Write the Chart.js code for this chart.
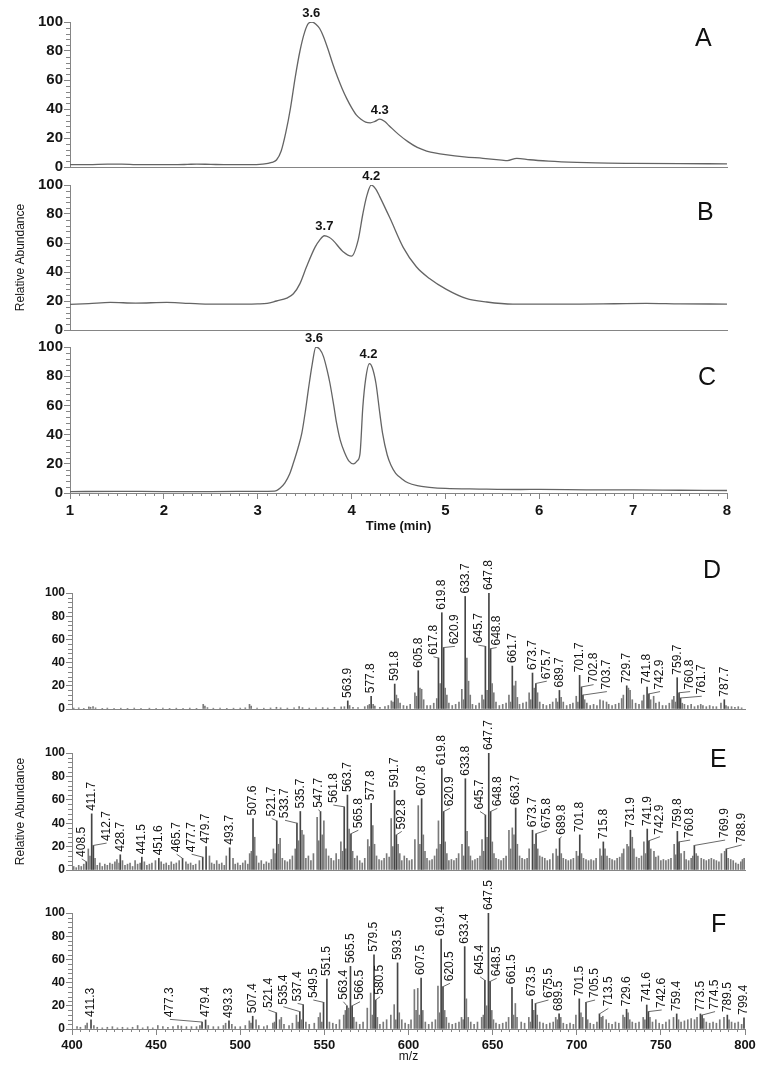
<!DOCTYPE html>
<html>
<head>
<meta charset="utf-8">
<script src="https://cdn.jsdelivr.net/npm/chart.js@4.4.1/dist/chart.umd.min.js"></script>
<style>
  body { margin: 0; background: #fff; width: 766px; height: 1076px; position: relative; overflow: hidden;
         font-family: "Liberation Sans", Arial, Helvetica, sans-serif; }
  canvas { position: absolute; left: 0; }
  .panel { position: absolute; font-size: 25px; line-height: 25px; color: #111; }
</style>
</head>
<body>
<canvas id="chA" width="766" height="180" style="top:0px"></canvas>
<canvas id="chB" width="766" height="180" style="top:160px"></canvas>
<canvas id="chC" width="766" height="220" style="top:320px"></canvas>
<canvas id="chD" width="766" height="175" style="top:545px"></canvas>
<canvas id="chE" width="766" height="180" style="top:700px"></canvas>
<canvas id="chF" width="766" height="211" style="top:865px"></canvas>

<div class="panel" style="left:695px;top:25px">A</div>
<div class="panel" style="left:697px;top:199px">B</div>
<div class="panel" style="left:698px;top:364px">C</div>
<div class="panel" style="left:703px;top:557px">D</div>
<div class="panel" style="left:710px;top:746px">E</div>
<div class="panel" style="left:711px;top:911px">F</div>

<script>
// ---- chromatograms: time (min) vs relative abundance (%) ----
const timeA = [1.0, 1.2, 1.4, 1.55, 1.7, 1.9, 2.1, 2.25, 2.35, 2.5, 2.7, 2.9, 3.05, 3.15, 3.2, 3.25, 3.3, 3.35, 3.4, 3.45,
               3.5, 3.54, 3.58, 3.62, 3.66, 3.7, 3.75, 3.8, 3.85, 3.9, 3.95, 4.0, 4.05, 4.1, 4.15, 4.2, 4.25, 4.3, 4.35, 4.4,
               4.5, 4.6, 4.7, 4.8, 4.9, 5.0, 5.2, 5.4, 5.6, 5.66, 5.76, 5.9, 6.1, 6.4, 6.6, 7.0, 7.5, 8.0];
const absA  = [1.6, 1.6, 2.0, 2.0, 1.7, 1.6, 1.6, 1.8, 2.0, 1.8, 1.6, 1.6, 2.0, 3.2, 4.8, 11, 24, 41, 62, 80,
               93, 99, 100, 98.5, 95.5, 90, 81, 71, 62, 54, 47, 41, 36, 33, 31, 30.5, 31.5, 33, 31.5, 28.5,
               22.5, 17.5, 13.5, 11, 9.5, 8.5, 7.0, 6.0, 4.8, 4.4, 6.0, 5.0, 4.1, 3.2, 2.8, 2.5, 2.3, 2.2];
const peaksA = [[3.57, 100, '3.6'], [4.3, 33, '4.3']];

const timeB = [1.0, 1.2, 1.43, 1.7, 2.03, 2.2, 2.38, 2.7, 3.0, 3.1, 3.2, 3.31, 3.38, 3.45, 3.52, 3.61, 3.66, 3.71, 3.76, 3.8,
               3.91, 4.0, 4.07, 4.12, 4.16, 4.21, 4.26, 4.3, 4.41, 4.55, 4.69, 4.83, 5.01, 5.22, 5.44, 5.72, 6.0, 6.43, 6.8, 7.14,
               7.5, 8.0];
const absB  = [17.7, 18.2, 19, 18.6, 19, 18.6, 18, 17.8, 18, 18.3, 20, 22, 25, 32, 43.6, 57, 62, 65, 64, 62,
               54, 51, 62, 80, 92, 100, 97, 92, 77, 57, 43.6, 35.5, 28, 21.8, 19.3, 17.9, 17.9, 17.9, 18.1, 18.3,
               18, 17.9];
const peaksB = [[3.71, 65, '3.7'], [4.21, 100, '4.2']];

const timeC = [1.0, 1.5, 2.0, 2.5, 3.0, 3.18, 3.24, 3.29, 3.34, 3.38, 3.43, 3.47, 3.51, 3.54, 3.58, 3.62, 3.66, 3.70, 3.74, 3.77,
               3.81, 3.84, 3.88, 3.93, 3.97, 4.02, 4.06, 4.09, 4.12, 4.15, 4.19, 4.22, 4.26, 4.30, 4.33, 4.38, 4.42, 4.47, 4.53, 4.6,
               4.7, 4.83, 5.0, 5.36, 5.8, 6.0, 6.5, 7.0, 7.5, 8.0];
const absC  = [1.0, 1.1, 1.0, 1.0, 1.1, 1.3, 3.5, 7, 13, 20.5, 31, 41, 57, 71, 88, 100, 98.5, 93.6, 84, 75,
               60, 48, 36, 27, 22, 20, 22, 27, 59, 78, 88.6, 86, 75, 55, 41, 26, 19, 13.5, 10, 7,
               5, 3.9, 3.1, 2.7, 2.4, 2.5, 2.2, 2.1, 1.9, 1.7];
const peaksC = [[3.6, 100, '3.6'], [4.18, 88.6, '4.2']];

// ---- mass spectra: labelled peaks (m/z, relative abundance) ----
const dMz  = [563.9, 577.8, 591.8, 605.8, 617.8, 619.8, 620.9, 633.7, 645.7, 647.8, 648.8, 661.7, 673.7,
              675.7, 689.7, 701.7, 702.8, 703.7, 729.7, 741.8, 742.9, 759.7, 760.8, 761.7, 787.7];
const dInt = [7, 11, 21.5, 33, 44, 83, 53, 97, 54, 100, 52, 37, 31,
              22, 16, 29, 19, 12, 20, 19, 13, 27, 14, 9.5, 8];

const eMz  = [408.5, 411.7, 412.7, 428.7, 441.5, 451.6, 465.7, 477.7, 479.7, 493.7, 507.6, 521.7, 533.7, 535.7,
              547.7, 561.8, 563.7, 565.8, 577.8, 591.7, 592.8, 607.8, 619.8, 620.9, 633.8, 645.7, 647.7, 648.8,
              663.7, 673.7, 675.8, 689.8, 701.8, 715.8, 731.9, 741.9, 742.9, 759.8, 760.8, 769.9, 788.9];
const eInt = [7, 48, 21, 13, 11, 10, 10, 11, 20, 19, 44, 42, 40, 50,
              50, 54, 64, 31, 57, 68, 30, 61, 87, 50, 78, 47, 100, 50,
              53, 34, 31, 27, 30, 24, 34, 35, 25, 33, 24, 21, 18];

const fMz  = [411.3, 477.3, 479.4, 493.3, 507.4, 521.4, 535.4, 537.4, 549.5, 551.5, 563.4, 565.5, 566.5, 579.5,
              580.5, 593.5, 607.5, 619.4, 620.5, 633.4, 645.4, 647.5, 648.5, 661.5, 673.5, 675.5, 689.5, 701.5,
              705.5, 713.5, 729.6, 741.6, 742.6, 759.4, 773.5, 774.5, 789.5, 799.4];
const fInt = [7.8, 6, 7.8, 7, 11, 14, 15, 21, 23, 43, 20, 54, 20, 64,
              25, 57, 44, 77.6, 36.5, 71, 42, 100, 41, 36, 25.6, 22, 13, 26,
              23, 13, 17, 20.7, 15, 13, 13, 12, 12, 9.7];

// ---- mass spectra: unlabelled ions [m/z, abundance] ----
const dMinor = [[401,0.8],[404,1],[407,0.6],[410,1.8],[411,1.5],[412.5,2],[414,1],[418,0.6],[421,0.8],[425,0.5],[429,0.7],
  [433,0.6],[437,0.8],[441,0.5],[446,0.7],[450,0.6],[454,0.8],[458,0.6],[462,0.7],[466,0.5],[470,0.8],[474,0.6],[478,4],
  [479,2.5],[480.5,1.2],[484,0.7],[488,0.8],[492,0.6],[496,0.7],[500,0.8],[503,1],[505.5,4],[506.5,2.5],[510,0.8],[514,0.7],
  [518,0.9],[521.5,1.5],[524,1],[528,0.8],[532,1],[535,2],[537,1.2],[541,0.8],[545,1],[549,1.2],[552,0.9],[556,1.5],
  [560,1.8],[561.9,2],[565,3],[567,1.5],[570,1.2],[574,2],[575.8,3],[576.8,4],[579,4],[580,2.5],[583,1.5],[586,2],[588,3],
  [589.8,7],[590.8,6],[592.8,12],[593.8,9],[595,5],[597,3],[599,2.5],[601,4],[603.8,14],[604.8,11],[606.8,18],[607.8,17],
  [609,8],[611,3],[613,3],[615,5],[616.8,9],[618.8,22],[621.8,18],[622.8,12],[624,5],[626,3],[628,4],[630,6],[631.7,17],
  [632.7,8],[634.7,44],[635.7,24],[636.7,12],[638,4],[640,3],[642,5],[643.7,12],[644.7,8],[646.7,16],[649.7,22],[650.7,14],
  [652,6],[654,3],[656,4],[658,5],[659.7,12],[660.7,6],[662.7,20],[663.7,24],[664.7,10],[666,4],[668,5],[670,6],[671.7,14],
  [672.7,8],[674.7,18],[676.7,14],[678,6],[680,4],[682,3],[684,4],[685.7,6],[687.7,9],[688.7,6],[690.7,10],[692,6],[694,3],
  [696,4],[697.7,5],[699.7,11],[700.7,6],[704.7,8],[706,5],[708,3],[710,4],[712,3],[713.8,8],[715.7,7],[717.7,6],[719,4],
  [721,3],[723,4],[725,5],[726.7,9],[727.7,12],[730.7,18],[731.7,16],[733,8],[735,5],[737,4],[738.8,7],[739.8,12],[743.9,8],
  [745.7,11],[747,5],[749,6],[751,3],[753,3],[755,5],[756.7,8],[757.7,11],[758.7,6],[762.7,5],[764,4],[766,3],[768,4],
  [770,2],[772,3],[773.7,4],[775,3],[777,2],[779,3],[781,2],[783,2],[785.7,5],[788.7,3],[790,2],[792,2],[794,1.5],[796,2],[798,1]];

const eMinor = [[401,3],[402.5,2],[404,4],[405.5,3],[407,5],[409.7,18],[410.7,12],[413.7,10],[415,4],[416.5,6],[418,3],
  [419.5,5],[421,4],[422.5,6],[424,5],[425.5,7],[426.7,9],[428,6],[430,8],[431.5,4],[433,5],[434.5,6],[436,3],[437.5,8],
  [439,5],[440.5,6],[443,7],[444.5,4],[446,5],[447.5,6],[449.6,8],[453,7],[454.5,5],[456,6],[457.5,4],[459,7],[460.5,5],
  [462,6],[463.7,8],[467.7,7],[469,5],[470.5,6],[472,4],[473.5,5],[475.7,8],[481.7,12],[483,6],[484.5,5],[486,8],[487.5,5],
  [489,6],[490.5,4],[491.7,12],[495.7,10],[497,5],[498.5,6],[500,4],[501.5,6],[503,8],[504.5,5],[505.6,14],[506.6,16],
  [508.6,28],[509.6,12],[511,6],[512.5,8],[514,5],[515.5,7],[517,6],[518.5,9],[519.7,18],[520.7,14],[522.7,22],[523.7,27],
  [525,10],[526.5,8],[528,7],[529.5,9],[531,12],[532.7,18],[534.7,25],[536.7,34],[537.7,30],[539,10],[540.5,12],[542,8],
  [543.5,14],[545.7,45],[546.7,25],[548.7,30],[549.7,42],[551,18],[552.5,12],[554,10],[555.5,8],[557,14],[558.5,9],
  [559.8,24],[560.8,16],[562.8,18],[564.7,35],[566.8,16],[568,10],[569.5,12],[571,8],[572.5,6],[574,10],[575.8,26],
  [576.8,20],[578.8,38],[579.8,22],[581,12],[582.5,9],[584,8],[585.5,10],[587,14],[588.5,11],[589.7,44],[590.7,20],
  [593.8,22],[594.8,14],[596,8],[597.5,12],[599,10],[600.5,8],[602,9],[603.8,26],[605.8,55],[606.8,22],[608.8,30],
  [609.8,16],[611,10],[612.5,8],[614,9],[615.5,12],[616.8,18],[617.8,42],[618.8,22],[621.8,24],[622.8,14],[624,8],
  [625.5,9],[627,8],[628.5,10],[629.8,14],[631.8,22],[632.8,12],[634.8,33],[635.8,20],[636.8,12],[638,8],[639.5,9],
  [641,10],[642.5,12],[643.7,26],[644.7,16],[646.7,28],[649.8,24],[650.8,14],[652,10],[653.5,9],[655,8],[656.5,10],
  [658,12],[659.7,34],[660.7,18],[661.7,36],[662.7,30],[664.7,22],[666,12],[667.5,10],[669,9],[670.5,10],[671.7,18],
  [674.7,22],[676.8,18],[678,12],[679.5,11],[681,10],[682.5,8],[684,9],[685.8,14],[687.8,18],[688.8,12],[690.8,14],
  [692,10],[693.5,9],[695,8],[696.5,9],[698,10],[699.8,16],[700.8,12],[702.8,14],[704,10],[705.5,9],[707,8],[708.5,9],
  [710,8],[711.5,10],[713.8,18],[714.8,12],[716.8,18],[718,12],[719.5,10],[721,9],[722.5,8],[724,10],[725.5,11],
  [726.9,14],[727.9,18],[729.9,22],[730.9,20],[733,28],[734,18],[735.5,11],[737,10],[738.5,12],[739.9,24],[740.9,14],
  [744,18],[745.9,16],[747,11],[748.5,12],[750,8],[751.5,9],[753,8],[754.5,9],[756,10],[757.9,22],[758.9,13],[762,14],
  [763.9,16],[765,9],[766.5,8],[768,10],[769,12],[771,14],[772,12],[774,10],[775.5,9],[777,8],[778.5,9],[780,10],
  [781.5,9],[783,8],[784.5,7],[786,14],[787.9,16],[790,10],[791.5,9],[793,8],[794.5,6],[796,5],[797.5,7],[798.5,9],[799.5,10]];

const fMinor = [[403,2],[405,1.5],[408,3],[409,5],[413,3],[415,1.5],[418,1],[421,1.5],[424,2],[427,1],[430,1.5],[433,1],
  [436,1.5],[439,3],[442,1],[445,2],[448,1],[451,3],[454,2],[457,1.5],[460,2],[463,3],[465,2.5],[468,2],[471,2],[474,2],
  [476,3],[481,3],[484,2],[487,2],[490,3],[491.3,5],[495,4],[497,2],[500,2],[503,3],[505.4,7],[506.4,5],[509.4,8],[511,3],
  [514,2],[516,3],[519.4,5],[520.4,6],[523.4,8],[524.4,10],[526,4],[529,3],[531,5],[533.4,12],[534.4,6],[536.4,8],[539,6],
  [541,4],[544,5],[546.5,10],[547.5,14],[548.5,6],[553,6],[555,5],[557,4],[559,8],[561.5,12],[562.5,16],[564.5,18],
  [567.5,10],[569,6],[571,4],[573,6],[575.5,18],[577.5,31],[578.5,12],[581.5,10],[583,4],[585,6],[587,8],[589.5,12],
  [591.5,21],[592.5,8],[594.5,14],[596,8],[598,5],[600,4],[601.5,8],[603.5,34],[604.5,16],[605.5,35],[606.5,12],[608.5,16],
  [610,6],[612,4],[614,6],[616,8],[617.5,37],[618.5,14],[621.5,16],[622.5,10],[624,5],[626,4],[628,5],[630,6],[631.5,10],
  [632.5,8],[634.4,26],[635.5,10],[637,6],[639,4],[641,6],[643.5,10],[644.5,12],[646.5,20],[649.5,16],[650.5,8],[652,5],
  [654,4],[656,5],[658,6],[659.5,10],[662.5,12],[663.5,22],[664.5,10],[667,6],[669,5],[671.5,10],[672.5,6],[674.5,16],
  [676.5,12],[678,6],[680,5],[682,4],[684,5],[686,6],[687.5,10],[688.5,8],[690.5,10],[692,5],[694,4],[696,5],[698,4],
  [699.5,12],[702.5,14],[703.5,10],[706.5,8],[708,5],[710,4],[712,6],[714.5,10],[715.5,11],[717.5,8],[719,5],[721,4],
  [723,6],[725,5],[727.5,12],[728.5,10],[730.5,14],[731.5,8],[733,6],[735,5],[737,6],[739.5,10],[740.5,8],[743.5,10],
  [745,6],[747,8],[749,5],[751,4],[753,6],[755,8],[757.5,10],[760.5,8],[762,6],[764,7],[766,8],[768,9],[770,8],[771.5,10],
  [775.5,9],[777,6],[779,5],[781,6],[783,5],[785,8],[787.5,10],[790.5,8],[792,6],[794,5],[796,6],[798,4]];

// where a crowded label is pushed aside: label -> [m/z of label, abundance at label foot]
const dTagAt = { '617.8': [614.8, 45], '620.9': [627.6, 54], '645.7': [641.5, 55], '648.8': [652.4, 53],
  '675.7': [682.2, 24], '702.8': [710.0, 21], '703.7': [717.9, 15], '742.9': [749.5, 15], '760.8': [767.4, 15],
  '761.7': [774.3, 11] };
const eTagAt = { '408.5': [405.8, 9.5], '412.7': [420.6, 23], '465.7': [462.2, 13.5], '477.7': [471.1, 13.5],
  '521.7': [518.7, 44], '533.7': [526.6, 42.5], '547.7': [546.4, 51.5], '561.8': [555.3, 55.5], '565.8': [570.2, 34],
  '592.8': [596.0, 33], '620.9': [624.7, 52.7], '645.7': [642.5, 50], '648.8': [652.8, 52.7], '675.8': [682.2, 34],
  '689.8': [691.1, 28.5], '742.9': [749.5, 28.5], '760.8': [767.4, 25.6], '769.9': [788.2, 25.6], '788.9': [798.1, 21.4] };
const fTagAt = { '477.3': [458.2, 8.3], '521.4': [516.7, 16.4], '535.4': [525.6, 19.2], '537.4': [534.1, 22],
  '549.5': [543.4, 25], '563.4': [561.3, 23.5], '566.5': [571.2, 23.5], '580.5': [583.1, 27.8], '620.5': [624.7, 39.4],
  '645.4': [642.5, 45], '648.5': [652.4, 43.7], '675.5': [683.2, 25], '705.5': [710.9, 25], '713.5': [718.8, 17.8],
  '742.6': [750.5, 16.4], '774.5': [782.2, 15] };

const FONT = '"Liberation Sans", Arial, Helvetica, sans-serif';
const AXIS = '#858585';
const INK = '#141414';

// minor tick marks on both axes, drawn with the chart's own scales
function minorTicks(yStep, xStep, xMajor) {
  return {
    id: 'minorTicks',
    afterDraw(chart) {
      const { ctx, scales: { x, y } } = chart;
      ctx.save();
      ctx.strokeStyle = AXIS;
      ctx.lineWidth = 1;
      ctx.beginPath();
      const ny = Math.round(100 / yStep);
      for (let i = 1; i < ny; i++) {
        const v = i * yStep;
        if (v % 20 === 0) continue;
        const py = Math.round(y.getPixelForValue(v)) + 0.5;
        ctx.moveTo(y.right - 4, py);
        ctx.lineTo(y.right, py);
      }
      if (xStep) {
        const nx = Math.round((x.max - x.min) / xStep);
        for (let i = 1; i < nx; i++) {
          const v = x.min + i * xStep;
          const r = v / xMajor;
          if (Math.abs(r - Math.round(r)) < 1e-6) continue;
          const px = Math.round(x.getPixelForValue(v)) + 0.5;
          ctx.moveTo(px, x.top);
          ctx.lineTo(px, x.top + 3);
        }
      }
      ctx.stroke();
      ctx.restore();
    }
  };
}

// retention-time labels above chromatogram apexes
function apexTags(peaks) {
  return {
    id: 'apexTags',
    afterDatasetsDraw(chart) {
      const { ctx, scales: { x, y } } = chart;
      ctx.save();
      ctx.font = 'bold 13px ' + FONT;
      ctx.fillStyle = INK;
      ctx.textAlign = 'center';
      ctx.textBaseline = 'middle';
      peaks.forEach(([t, v, txt]) => ctx.fillText(txt, x.getPixelForValue(t), y.getPixelForValue(v) - 9));
      ctx.restore();
    }
  };
}

// vertical m/z labels with leader lines when pushed aside
function ionTags(mz, inten, tagAt) {
  return {
    id: 'ionTags',
    afterDatasetsDraw(chart) {
      const { ctx, scales: { x, y } } = chart;
      ctx.save();
      ctx.font = '12px ' + FONT;
      ctx.fillStyle = INK;
      ctx.strokeStyle = '#6a6a6a';
      ctx.lineWidth = 1;
      ctx.textAlign = 'left';
      ctx.textBaseline = 'middle';
      mz.forEach((m, i) => {
        const txt = m.toFixed(1);
        const px = x.getPixelForValue(m), py = y.getPixelForValue(inten[i]);
        let lx = px, ly = py - 3;
        const at = tagAt[txt];
        if (at) {
          lx = x.getPixelForValue(at[0]);
          ly = y.getPixelForValue(at[1]);
          ctx.beginPath();
          ctx.moveTo(px, py);
          ctx.lineTo(lx, ly);
          ctx.stroke();
          ly -= 2;
        }
        ctx.save();
        ctx.translate(lx, ly);
        ctx.rotate(-Math.PI / 2);
        ctx.fillText(txt, 0, 0);
        ctx.restore();
      });
      ctx.restore();
    }
  };
}

function yScale(width, size, withTitle) {
  return {
    min: 0, max: 100,
    ticks: { stepSize: 20, padding: 1, color: INK, font: { family: FONT, size: size, weight: 'bold' } },
    grid: { drawOnChartArea: false, tickLength: 6, color: AXIS },
    border: { color: AXIS },
    title: { display: withTitle, text: 'Relative Abundance', color: INK,
             font: { family: FONT, size: 12 }, padding: { top: 13, bottom: 0 } },
    afterFit: s => { s.width = width; }
  };
}

function xScale(min, max, height, step, size, title) {
  const s = {
    type: 'linear', min: min, max: max, offset: false,
    border: { color: AXIS },
    afterFit: sc => { sc.height = height; }
  };
  if (step) {
    s.ticks = { stepSize: step, padding: 3, color: INK, maxRotation: 0, autoSkip: false,
                font: { family: FONT, size: size, weight: 'bold' } };
    s.grid = { drawOnChartArea: false, tickLength: 6, color: AXIS, offset: false };
    s.title = title;
  } else {
    s.ticks = { display: false };
    s.grid = { display: false, offset: false };
  }
  return s;
}

const base = {
  responsive: false,
  animation: false,
  devicePixelRatio: 1,
  events: [],
  plugins: { legend: { display: false }, tooltip: { enabled: false } }
};

function chromatogram(id, times, vals, peaks, pad, xHeight, withTitle, withAxis) {
  const xs = withAxis
    ? xScale(1, 8, xHeight, 1, 15, { display: true, text: 'Time (min)', color: INK,
        font: { family: FONT, size: 13, weight: 'bold' }, padding: { top: 0, bottom: 6 } })
    : xScale(1, 8, xHeight, 0);
  new Chart(document.getElementById(id), {
    type: 'line',
    data: { datasets: [{
      data: times.map((t, i) => ({ x: t, y: vals[i] })),
      borderColor: '#646464', borderWidth: 1.3, pointRadius: 0,
      cubicInterpolationMode: 'monotone', fill: false
    }] },
    options: Object.assign({}, base, {
      layout: { padding: { top: pad, right: 39, bottom: 0, left: 0 } },
      scales: { x: xs, y: yScale(70, 15, withTitle) }
    }),
    plugins: [minorTicks(4, withAxis ? 0.1 : 0, 1), apexTags(peaks)]
  });
}

function spectrum(id, mz, inten, minor, tagAt, pad, xHeight, withTitle, withAxis) {
  const xs = withAxis
    ? xScale(400, 800, xHeight, 50, 13, { display: true, text: 'm/z', color: INK,
        font: { family: FONT, size: 12 }, padding: { top: 0, bottom: 12 } })
    : xScale(400, 800, xHeight, 0);
  new Chart(document.getElementById(id), {
    type: 'bar',
    data: { datasets: [
      { data: minor.map(p => ({ x: p[0], y: p[1] })), backgroundColor: '#7a7a7a',
        barThickness: 1, grouped: false, borderWidth: 0 },
      { data: mz.map((m, i) => ({ x: m, y: inten[i] })), backgroundColor: '#454545',
        barThickness: 1, grouped: false, borderWidth: 0 }
    ] },
    options: Object.assign({}, base, {
      layout: { padding: { top: pad, right: 21, bottom: 0, left: 0 } },
      scales: { x: xs, y: yScale(72, 12, withTitle) }
    }),
    plugins: [minorTicks(4, withAxis ? 5 : 0, 50), ionTags(mz, inten, tagAt)]
  });
}

chromatogram('chA', timeA, absA, peaksA, 22, 13, false, false);
chromatogram('chB', timeB, absB, peaksB, 25, 10, true, false);
chromatogram('chC', timeC, absC, peaksC, 27, 47, false, true);

spectrum('chD', dMz, dInt, dMinor, dTagAt, 48, 11, false, false);
spectrum('chE', eMz, eInt, eMinor, eTagAt, 53, 10, true, false);
spectrum('chF', fMz, fInt, fMinor, fTagAt, 48, 47, false, true);
</script>
</body>
</html>
